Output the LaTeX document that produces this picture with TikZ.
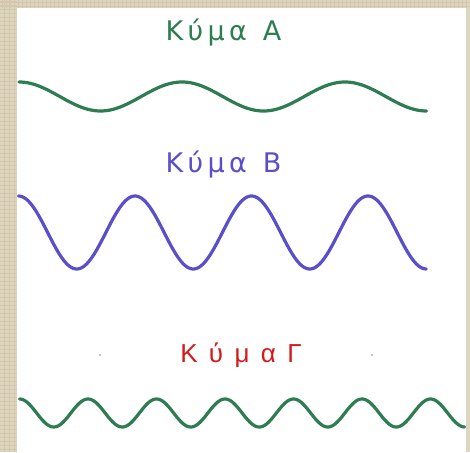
\documentclass[tikz,border=0pt]{standalone}
\usepackage{fontspec}
\newfontfamily\wavefont[LetterSpace=16]{DejaVu Sans}
\newfontfamily\redfont[LetterSpace=16]{Liberation Sans}
\definecolor{parch}{HTML}{DED5BE}
\definecolor{parchdark}{HTML}{D2C7AC}
\definecolor{waveA}{HTML}{2E7D52}
\definecolor{waveB}{HTML}{5A4ECB}
\definecolor{waveG}{HTML}{D41A1A}
\tikzset{
  wave/.style={line width=3.2pt, line cap=round, line join=round},
  title/.style={anchor=base, inner sep=0pt, font=\wavefont\fontsize{27}{31}\selectfont},
  texture/.style={parchdark, line width=0.7pt},
}
\begin{document}
\begin{tikzpicture}[x=1pt,y=1pt]
\useasboundingbox (0,0) rectangle (470,452);
\fill[parch] (0,0) rectangle (470,452);
\foreach \i in {2,6,...,470} {\draw[texture] (\i,444) -- (\i,452);}
\foreach \j in {446,449.5} {\draw[texture] (0,\j) -- (470,\j);}
\foreach \j in {3,7,...,452} {\draw[texture] (0,\j) -- (17,\j);}
\foreach \i in {4,9,14} {\draw[texture] (\i,0) -- (\i,452);}
\fill[white] (17,0) rectangle (466,444);
% titles
\node[title, text=waveA] (ta) at (223.5,411) {Κύμα\hspace{16pt}Α};
\node[title, text=waveB] (tb) at (223.5,279) {Κύμα\hspace{16pt}Β};
\node[anchor=base, inner sep=0pt, text=waveG, font=\redfont\fontsize{26}{30}\selectfont] (tg) at (241,90) {Κ ύ μ α Γ};
% specks
\fill[gray!60] (100,97) circle (1.2);
\fill[gray!60] (372,97) circle (1.2);
% waves
\draw[wave, waveA] plot[domain=19:426.5, samples=200, smooth] (\x, {355.5+14.5*cos((\x-19)*2.20859)});
\draw[wave, waveB] plot[domain=18.5:426.25, samples=240, smooth] (\x, {219.5+36.5*cos((\x-18.5)*3.09013)});
\draw[wave, waveA] plot[domain=19.5:464.5, samples=300, smooth] (\x, {39+14*cos((\x-19.5)*5.25547)});
\end{tikzpicture}
\end{document}
